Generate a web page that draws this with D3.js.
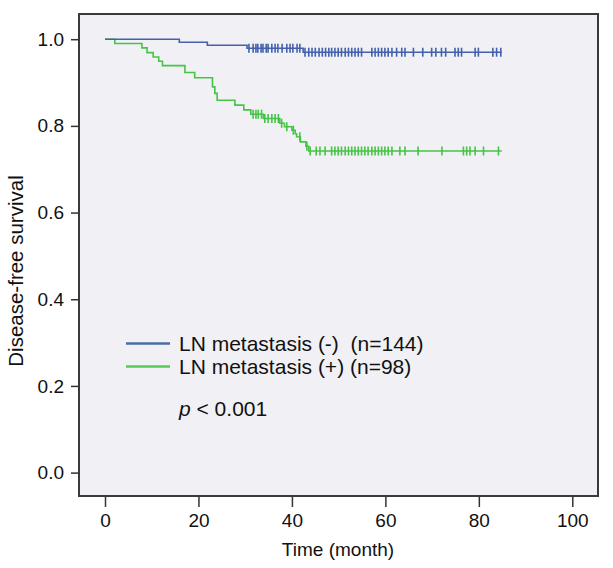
<!DOCTYPE html>
<html><head><meta charset="utf-8">
<script src="https://cdn.jsdelivr.net/npm/d3@7"></script>
<style>
body{margin:0;background:#fff}
svg{display:block}
text{font-family:"Liberation Sans",Arial,sans-serif;fill:#111}
</style>
</head><body>
<svg id="c" width="613" height="568"></svg>
<script>
// ---- data ----
const xTicks = [0, 20, 40, 60, 80, 100];
const yTicks = [0.0, 0.2, 0.4, 0.6, 0.8, 1.0];
const groupLabels = ["LN metastasis (-)  (n=144)", "LN metastasis (+) (n=98)"];
const groupColors = ["#4361ad", "#45c445"];
const pValueLabel = "< 0.001";

const negEventTimes = [15.9, 21.9, 30.4, 42.4];
const negEventSurv  = [0.993, 0.986, 0.979, 0.970];
const negCensorTimes = [30.8, 31.7, 32.3, 32.7, 33.4, 33.8, 34.5, 34.9, 35.7, 36.4, 37.0, 37.9, 38.9, 39.6, 40.2, 41.1, 41.7,
  42.8, 43.6, 44.3, 45.0, 45.8, 46.5, 47.2, 47.9, 48.5, 49.2, 49.9, 50.6, 51.4, 52.1, 52.8, 53.5, 54.2, 54.9,
  57.1, 57.8, 58.5, 59.2, 59.9, 60.6, 61.4, 62.4, 63.5, 64.2, 66.0, 68.0, 69.9, 70.8, 72.0, 72.9, 74.9, 75.6, 76.3,
  79.2, 79.9, 83.0, 83.8, 84.7];
const negEndTime = 84.9;

const posEventTimes = [2.1, 7.9, 9.0, 10.3, 11.5, 12.3, 17.1, 19.2, 23.0, 23.5, 24.0, 27.8, 29.7, 31.2, 33.9, 37.4, 38.4, 40.0, 40.7, 41.0, 41.8, 43.0, 43.6];
const posEventSurv  = [0.990, 0.980, 0.969, 0.959, 0.949, 0.939, 0.923, 0.911, 0.890, 0.875, 0.859, 0.848, 0.837, 0.827, 0.817, 0.806, 0.798, 0.790, 0.782, 0.775, 0.763, 0.753, 0.742];
const posCensorTimes = [31.7, 32.3, 32.8, 33.5, 34.2, 34.9, 35.7, 36.4, 37.1, 37.8, 38.9, 40.3, 41.7, 43.2, 43.9, 45.2, 46.0, 47.1,
  48.5, 49.2, 49.9, 50.6, 51.4, 52.1, 52.8, 53.5, 54.2, 54.9, 55.6, 56.3, 57.1, 57.8, 58.5, 59.2, 59.9, 60.6, 61.4,
  63.1, 64.2, 67.0, 72.1, 76.7, 77.4, 78.1, 79.2, 81.0, 84.2];
const posEndTime = 84.9;

// ---- chart ----
const svg = d3.select("#c");
const frame = {left: 79, right: 598, top: 14, bottom: 496};
const x = d3.scaleLinear().domain([0, 100]).range([105, 572.3]);
const y = d3.scaleLinear().domain([0, 1]).range([472.6, 39.2]);

svg.append("rect").attr("x", frame.left).attr("y", frame.top)
  .attr("width", frame.right - frame.left).attr("height", frame.bottom - frame.top)
  .attr("fill", "#f1f0f4").attr("stroke", "#3a3a3a").attr("stroke-width", 2);

// axes
const yAxis = svg.append("g").attr("transform", `translate(${frame.left},0)`)
  .call(d3.axisLeft(y).tickValues(yTicks).tickFormat(d3.format(".1f")).tickSize(8).tickPadding(7));
const xAxis = svg.append("g").attr("transform", `translate(0,${frame.bottom + 1})`)
  .call(d3.axisBottom(x).tickValues(xTicks).tickFormat(d3.format("d")).tickSize(10).tickPadding(7));
[xAxis, yAxis].forEach(a => {
  a.select(".domain").remove();
  a.selectAll(".tick line").attr("stroke", "#333").attr("stroke-width", 1.5);
  a.selectAll(".tick text").attr("font-size", 19).attr("fill", "#111")
    .attr("font-family", '"Liberation Sans",Arial,sans-serif');
});

svg.append("text").attr("x", 338).attr("y", 556).attr("text-anchor", "middle")
  .attr("font-size", 19).text("Time (month)");
svg.append("text").attr("transform", "translate(23,271) rotate(-90)").attr("text-anchor", "middle")
  .attr("font-size", 20.5).text("Disease-free survival");

// curves
function drawGroup(times, surv, censors, endT, color) {
  const pts = [[0, 1]];
  times.forEach((t, i) => pts.push([t, surv[i]]));
  pts.push([endT, surv[surv.length - 1]]);
  const line = d3.line().x(d => x(d[0])).y(d => y(d[1])).curve(d3.curveStepAfter);
  svg.append("path").attr("d", line(pts)).attr("fill", "none")
    .attr("stroke", color).attr("stroke-width", 1.6);
  const survAt = t => {
    const i = d3.bisectRight(times, t);
    return i === 0 ? 1 : surv[i - 1];
  };
  svg.append("g").selectAll("line").data(censors).join("line")
    .attr("x1", d => x(d)).attr("x2", d => x(d))
    .attr("y1", d => y(survAt(d)) - 4.5).attr("y2", d => y(survAt(d)) + 4.5)
    .attr("stroke", color).attr("stroke-width", 1.6);
}
drawGroup(posEventTimes, posEventSurv, posCensorTimes, posEndTime, groupColors[1]);
drawGroup(negEventTimes, negEventSurv, negCensorTimes, negEndTime, groupColors[0]);

// legend
const leg = svg.append("g");
const legY = [343.5, 366.5];
groupLabels.forEach((lab, i) => {
  leg.append("line").attr("x1", 126).attr("x2", 170).attr("y1", legY[i]).attr("y2", legY[i])
    .attr("stroke", i === 0 ? "#4a6ea8" : "#55cc55").attr("stroke-width", 2.5);
  leg.append("text").attr("x", 179).attr("y", legY[i] + 7.5).attr("font-size", 21)
    .style("white-space", "pre").text(lab);
});
const pt = leg.append("text").attr("x", 179).attr("y", 416).attr("font-size", 21).style("white-space", "pre");
pt.append("tspan").attr("font-style", "italic").text("p");
pt.append("tspan").text(" " + pValueLabel);
</script>
</body></html>
